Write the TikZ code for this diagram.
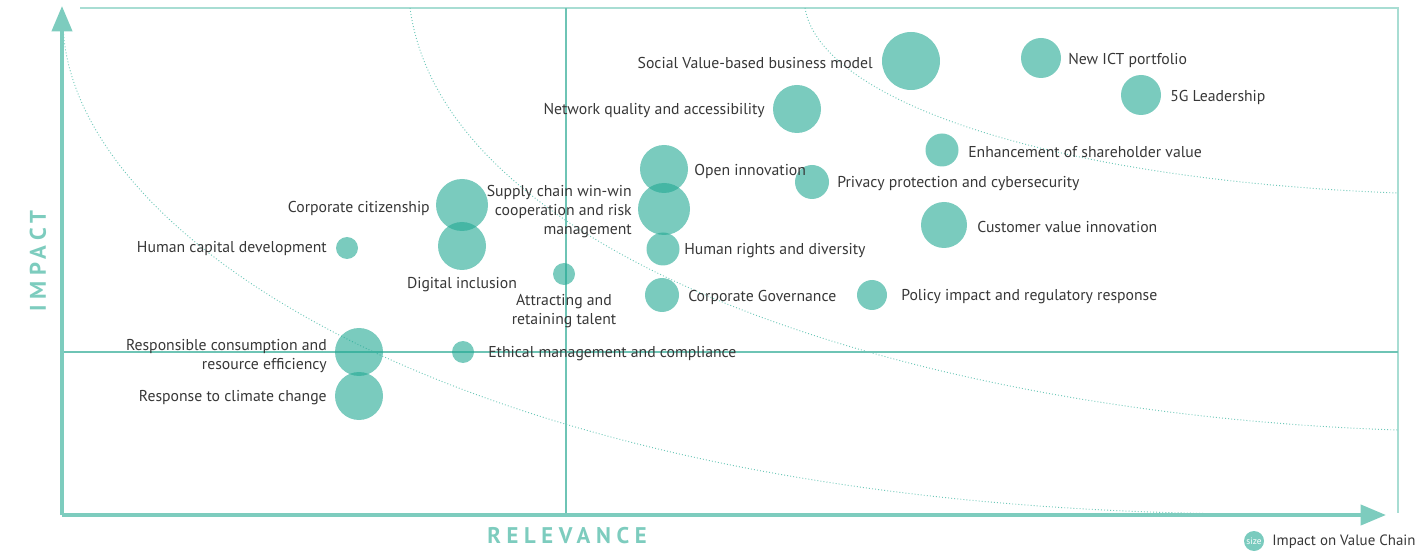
\documentclass[tikz,border=0pt]{standalone}
\usepackage{fontspec}
\setmainfont{PT Sans}
\usetikzlibrary{arrows.meta}
\definecolor{frameC}{RGB}{168,221,211}
\definecolor{axisC}{RGB}{125,204,190}
\definecolor{crossC}{RGB}{110,196,181}
\definecolor{bubC}{RGB}{33,168,147}
\definecolor{txtC}{RGB}{55,55,55}
\definecolor{curveC}{RGB}{110,200,185}
\begin{document}
\begin{tikzpicture}[x=0.75pt,y=-0.75pt,
  bub/.style={circle,fill=bubC,fill opacity=0.6,draw=none,inner sep=0,minimum size=#1*1.5pt},
  lab/.style={text=txtC,font=\fontsize{11.8}{14.25}\selectfont,inner sep=0},
  labE/.style={lab,anchor=east,align=right},
  labW/.style={lab,anchor=west,align=left},
  labC/.style={lab,align=center},
  framel/.style={draw=frameC,line width=1.5pt},
  crossl/.style={draw=crossC,line width=1.5pt},
  axisl/.style={draw=axisC,line width=3pt,-{Triangle[length=19pt,width=15pt]}},
  curvel/.style={draw=curveC,line width=0.7pt,dash pattern=on 0.7pt off 1.6pt},
  axlab/.style={text=axisC,font=\fontsize{17}{17}\selectfont\bfseries\addfontfeatures{LetterSpace=25},inner sep=0}
]
\useasboundingbox (0,0) rectangle (1428,552);

% frame
\coordinate (fTL) at (80,8);
\coordinate (fTR) at (1398,8);
\coordinate (fBR) at (1398,513);
\draw[framel] (fTL) -- (fTR) -- (fBR);

% cross lines
\coordinate (vT) at (566,8);
\coordinate (vB) at (566,515);
\coordinate (hL) at (62,352);
\coordinate (hR) at (1398,352);
\draw[crossl] (vT) -- (vB);
\draw[crossl] (hL) -- (hR);

% dotted curves
\coordinate (c1s) at (63,25);
\coordinate (c1e) at (1250,514);
\draw[curvel] (c1s) .. controls (70,240) and (470,510) .. (c1e);
\coordinate (c2s) at (410,8);
\coordinate (c2e) at (1398,430);
\draw[curvel] (c2s) .. controls (445,265) and (930,415) .. (c2e);
\coordinate (c3s) at (805,8);
\coordinate (c3e) at (1398,193);
\draw[curvel] (c3s) .. controls (820,100) and (1050,180) .. (c3e);

% axes
\coordinate (origin) at (62,515);
\coordinate (ytip) at (62,6);
\coordinate (xtip) at (1386,515);
\draw[axisl] (origin) -- (ytip);
\draw[axisl] (origin) -- (xtip);

\node[axlab,rotate=90] (ylab) at (38,261) {IMPACT};
\node[axlab] (xlab) at (567,536) {RELEVANCE};

% bubbles
\node[bub=29] (b1) at (911,61) {};
\node[bub=20] (b2) at (1041,58) {};
\node[bub=20] (b3) at (1141,95) {};
\node[bub=24] (b4) at (797,109) {};
\node[bub=16.5] (b5) at (942,150) {};
\node[bub=24] (b6) at (664,169) {};
\node[bub=17] (b7) at (812,182) {};
\node[bub=26] (b8) at (664,209) {};
\node[bub=23] (b9) at (944,225) {};
\node[bub=16.5] (b10) at (663,249) {};
\node[bub=17] (b11) at (662,295) {};
\node[bub=15] (b12) at (872,295) {};
\node[bub=26] (b13) at (462,205) {};
\node[bub=24] (b14) at (462,246) {};
\node[bub=11] (b15) at (347,248) {};
\node[bub=11] (b16) at (564,274) {};
\node[bub=24] (b17) at (359,352) {};
\node[bub=24] (b18) at (359,396) {};
\node[bub=11] (b19) at (463,352) {};

% labels
\node[labE] (l1) at (873,63) {Social Value-based business model};
\node[labW] (l2) at (1068,60) {New ICT portfolio};
\node[labW] (l3) at (1170,97) {5G Leadership};
\node[labE] (l4) at (765,111) {Network quality and accessibility};
\node[labW] (l5) at (968,152) {Enhancement of shareholder value};
\node[labW] (l6) at (694,171) {Open innovation};
\node[labW] (l7) at (837,184) {Privacy protection and cybersecurity};
\node[labE] (l8) at (632,212) {Supply chain win-win\\cooperation and risk\\management};
\node[labW] (l9) at (977,227) {Customer value innovation};
\node[labW] (l10) at (684,251) {Human rights and diversity};
\node[labW] (l11) at (688,297) {Corporate Governance};
\node[labW] (l12) at (901,297) {Policy impact and regulatory response};
\node[labE] (l13) at (430,208) {Corporate citizenship};
\node[labE] (l14) at (327,249) {Human capital development};
\node[labC] (l15) at (462,285) {Digital inclusion};
\node[labC] (l16) at (564,311) {Attracting and\\retaining talent};
\node[labE] (l17) at (327,356) {Responsible consumption and\\resource efficiency};
\node[labE] (l18) at (327,398) {Response to climate change};
\node[labW] (l19) at (488,354) {Ethical management and compliance};

% legend
\node[bub=10] (legdot) at (1254,541) {};
\node[text=white,inner sep=0,font=\fontsize{7}{7}\selectfont] (legsize) at (legdot) {size};
\node[lab,anchor=west,font=\fontsize{11.2}{11.2}\selectfont] (legtxt) at (1272,542) {Impact on Value Chain};
\end{tikzpicture}
\end{document}
